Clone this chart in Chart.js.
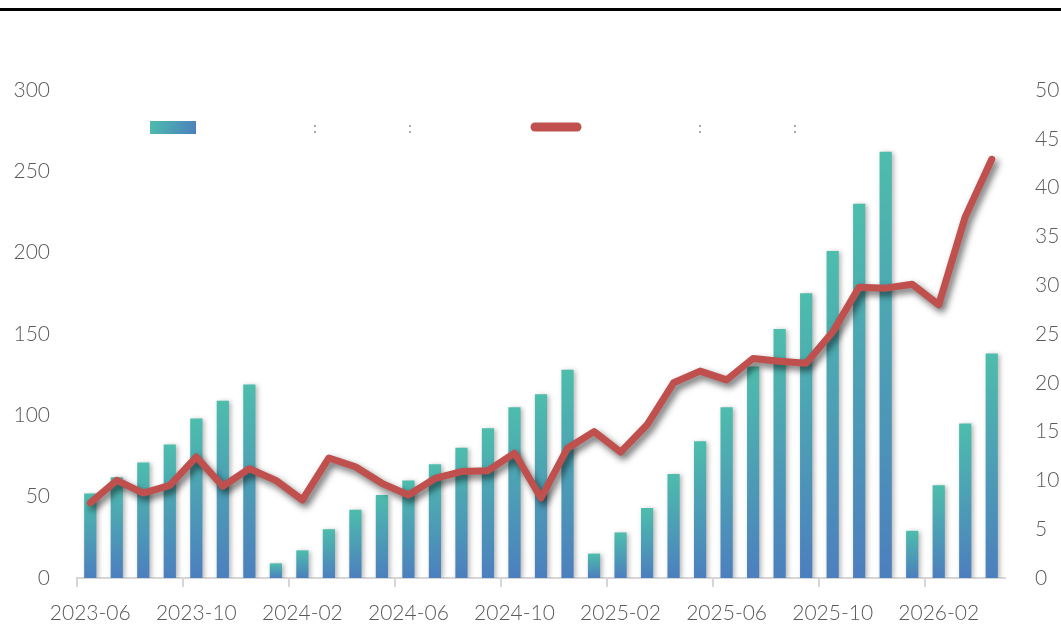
<!DOCTYPE html>
<html>
<head>
<meta charset="utf-8">
<script src="https://cdn.jsdelivr.net/npm/chart.js@4.4.1/dist/chart.umd.min.js"></script>
<style>
    html, body { margin: 0; padding: 0; background: #fff; overflow: hidden; }
    .topline { position: absolute; left: 0; top: 8px; width: 1061px; height: 0; border-top: 3px solid #000; z-index: 2; }
    .wrap { position: absolute; left: 0; top: 0; width: 1061px; height: 643px; }
</style>
</head>
<body>
<div class="topline"></div>
<div class="wrap"><canvas id="myChart" width="1061" height="643"></canvas></div>
<script>
const months = [
    '2023-06', '2023-07', '2023-08', '2023-09', '2023-10', '2023-11', '2023-12',
    '2024-01', '2024-02', '2024-03', '2024-04', '2024-05', '2024-06', '2024-07',
    '2024-08', '2024-09', '2024-10', '2024-11', '2024-12', '2025-01', '2025-02',
    '2025-03', '2025-04', '2025-05', '2025-06', '2025-07', '2025-08', '2025-09',
    '2025-10', '2025-11', '2025-12', '2026-01', '2026-02', '2026-03', '2026-04'
];
const barValues = [
    52, 62, 71, 82, 98, 109, 119, 9, 17, 30, 42, 51, 60, 70, 80, 92, 105, 113,
    128, 15, 28, 43, 64, 84, 105, 130, 153, 175, 201, 230, 262, 29, 57, 95, 138
];
const lineValues = [
    7.7, 10.0, 8.7, 9.5, 12.4, 9.4, 11.2, 10.0, 8.0, 12.3, 11.4, 9.7, 8.5, 10.2,
    10.9, 11.0, 12.8, 8.2, 13.3, 15.0, 12.9, 15.7, 20.0, 21.2, 20.3, 22.5, 22.2,
    22.0, 25.2, 29.8, 29.7, 30.1, 28.0, 37.0, 42.9
];
const leftTicks = [0, 300, 50];
const rightTicks = [0, 50, 5];

const teal = '#4dbdac';
const blue = '#4c7fbe';
const red = '#c0504d';
const tickFont = { family: "Lato, 'DejaVu Sans Condensed', sans-serif", size: 21, weight: 300 };
const tickColor = '#5a5a5a';

let barGradient = (context) => {
    const chart = context.chart;
    if (!chart.chartArea || context.type !== 'data') return teal;
    const y = chart.scales.y;
    const top = y.getPixelForValue(context.raw);
    const base = y.getPixelForValue(0);
    if (!isFinite(top) || top === base) return teal;
    const g = chart.ctx.createLinearGradient(0, top, 0, base);
    g.addColorStop(0, teal);
    g.addColorStop(1, blue);
    return g;
};

// soft drop shadows, like the office-style chart
const shadowPlugin = {
    id: 'shadows',
    beforeDatasetDraw(chart, args) {
        const ctx = chart.ctx;
        ctx.save();
        if (args.meta.type === 'line') {
            ctx.shadowColor = 'rgba(0,0,0,0.6)';
            ctx.shadowBlur = 7;
            ctx.shadowOffsetX = 3;
            ctx.shadowOffsetY = 4;
        } else {
            ctx.shadowColor = 'rgba(0,0,0,0.3)';
            ctx.shadowBlur = 5;
            ctx.shadowOffsetX = 2;
            ctx.shadowOffsetY = 1;
        }
    },
    afterDatasetDraw(chart) {
        chart.ctx.restore();
    }
};

// legend sits inside the plot area, labels only show their colons
const legendPlugin = {
    id: 'innerLegend',
    afterDraw(chart) {
        const ctx = chart.ctx;
        ctx.save();
        const g = ctx.createLinearGradient(150, 121, 196, 134);
        g.addColorStop(0, teal);
        g.addColorStop(1, blue);
        ctx.fillStyle = g;
        ctx.fillRect(150, 121, 46, 13);

        ctx.strokeStyle = red;
        ctx.lineWidth = 9;
        ctx.lineCap = 'round';
        ctx.beginPath();
        ctx.moveTo(535, 127);
        ctx.lineTo(577, 127);
        ctx.stroke();

        ctx.fillStyle = '#9a9a9a';
        ctx.font = "16px 'DejaVu Sans'";
        ctx.textAlign = 'center';
        ctx.textBaseline = 'middle';
        [315, 410, 700, 795].forEach(x => ctx.fillText(':', x, 129));
        ctx.restore();
    }
};

new Chart(document.getElementById('myChart'), {
    type: 'bar',
    data: {
        labels: months,
        datasets: [{
            type: 'line',
            data: lineValues,
            yAxisID: 'y1',
            borderColor: red,
            borderWidth: 7,
            pointRadius: 0,
            tension: 0,
            borderJoinStyle: 'round',
            borderCapStyle: 'round',
            order: 0
        }, {
            type: 'bar',
            data: barValues,
            yAxisID: 'y',
            backgroundColor: barGradient,
            borderWidth: 0,
            categoryPercentage: 1,
            barPercentage: 0.46,
            order: 1
        }]
    },
    options: {
        responsive: false,
        animation: false,
        devicePixelRatio: 1,
        layout: {
            padding: { top: 90, left: 0, right: 0, bottom: 0 }
        },
        scales: {
            x: {
                offset: true,
                afterFit: (s) => { s.height = 65; s.paddingLeft = 0; s.paddingRight = 0; },
                grid: {
                    offset: true,
                    drawOnChartArea: false,
                    drawTicks: true,
                    tickLength: 9,
                    lineWidth: 2,
                    color: (c) => (c.index % 4 === 0 ? '#d6d6d6' : 'rgba(0,0,0,0)')
                },
                border: { display: true, color: '#d6d6d6', width: 2 },
                ticks: {
                    autoSkip: false,
                    maxRotation: 0,
                    padding: 14,
                    color: tickColor,
                    font: tickFont,
                    callback: (v, i) => (i % 4 === 0 ? months[i] : '')
                }
            },
            y: {
                position: 'left',
                min: leftTicks[0],
                max: leftTicks[1],
                afterFit: (s) => { s.width = 77; },
                grid: { display: false, drawTicks: false },
                border: { display: false },
                ticks: { stepSize: leftTicks[2], padding: 27, color: tickColor, font: tickFont }
            },
            y1: {
                position: 'right',
                min: rightTicks[0],
                max: rightTicks[1],
                afterFit: (s) => { s.width = 56; },
                grid: { display: false, drawTicks: false },
                border: { display: false },
                ticks: { stepSize: rightTicks[2], padding: 30, color: tickColor, font: tickFont }
            }
        },
        plugins: {
            legend: { display: false },
            tooltip: { enabled: false }
        }
    },
    plugins: [shadowPlugin, legendPlugin]
});
</script>
</body>
</html>
